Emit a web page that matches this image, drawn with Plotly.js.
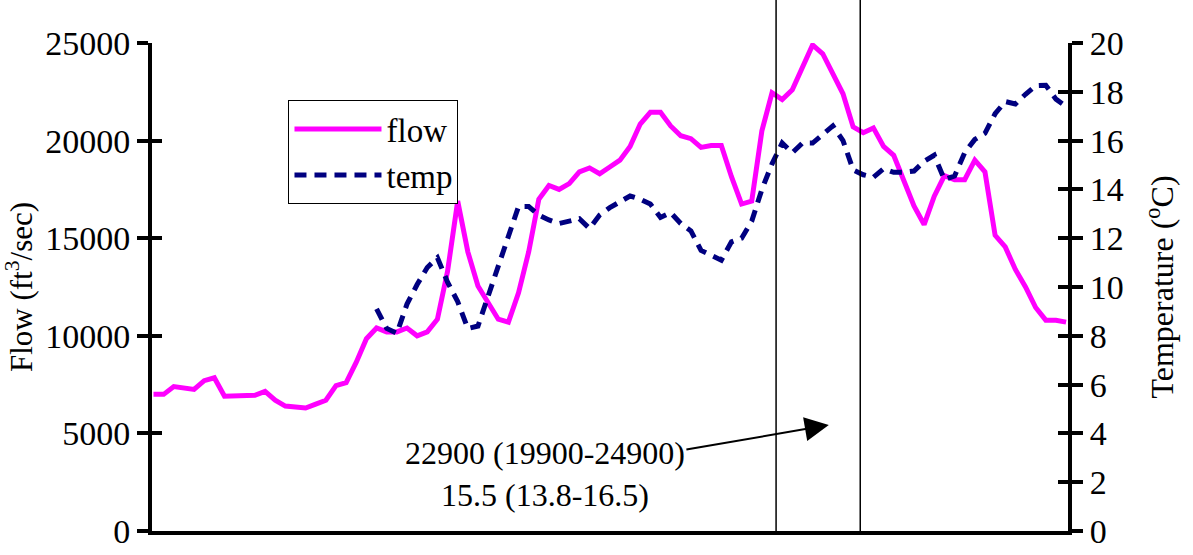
<!DOCTYPE html>
<html><head><meta charset="utf-8">
<script src="https://cdn.plot.ly/plotly-3.0.1.min.js"></script>
<style>html,body{margin:0;padding:0;background:#fff;} #chart{width:1193px;height:555px;}</style>
</head><body><div id="chart"></div>
<script>
// Day index along the (unlabelled) time axis
const days = [0,1,2,3,4,5,6,7,8,9,10,11,12,13,14,15,16,17,18,19,20,21,22,23,24,25,26,27,28,29,
  30,31,32,33,34,35,36,37,38,39,40,41,42,43,44,45,46,47,48,49,50,51,52,53,54,55,56,57,58,59,
  60,61,62,63,64,65,66,67,68,69,70,71,72,73,74,75,76,77,78,79,80,81,82,83,84,85,86,87,88,89,90];

// Flow (ft3/sec)
const flow = [7000,7000,7400,7350,7250,7700,7850,6900,6900,6900,
  6950,7150,6700,6400,6350,6300,6500,6700,7450,7600,
  8650,9850,10400,10200,10200,10400,10000,10200,10850,13300,
  16900,14300,12550,11700,10850,10700,12200,14300,17000,17700,
  17500,17800,18400,18600,18300,18650,19000,19700,20850,21450,
  21450,20750,20250,20100,19650,19750,19750,18150,16750,16900,
  20500,22450,22100,22600,23800,24900,24450,23450,22400,20700,
  20400,20650,19700,19250,17900,16650,15700,17150,18200,18000,
  18000,19000,18400,15150,14550,13400,12500,11450,10800,10800,10700];

// Temperature (deg C)
const temp = [null,null,null,null,null,null,null,null,null,null,
  null,null,null,null,null,null,null,null,null,null,null,null,
  9.1,8.3,8.1,9.3,10.1,10.8,11.2,10.2,9.4,8.3,
  8.4,9.6,10.8,12.0,13.3,13.3,12.95,12.75,12.6,12.7,
  12.8,12.4,12.95,13.25,13.5,13.73,13.6,13.4,12.85,13.05,
  12.6,12.3,11.5,11.3,11.1,11.85,12.0,12.7,14.0,15.05,
  15.9,15.5,15.9,15.9,16.25,16.6,16.0,14.8,14.6,14.5,
  14.85,14.7,14.7,14.75,15.15,15.4,14.4,14.55,15.5,16.05,
  16.3,17.1,17.6,17.5,17.9,18.25,18.27,17.7,17.4];

// Window marked by vertical lines (day index)
const windowBounds = [61.4, 69.7];
const annotationText = ['22900 (19900-24900)', '15.5 (13.8-16.5)'];
const seriesNames = ['flow', 'temp'];

const FONT = 'Liberation Serif';
const tickFont = {family: FONT, size: 34, color: '#000'};

const traces = [
  {x: days, y: flow, name: seriesNames[0], type: 'scatter', mode: 'lines',
   line: {color: '#FF00FF', width: 5}, yaxis: 'y', hoverinfo: 'skip'},
  {x: days, y: temp, name: seriesNames[1], type: 'scatter', mode: 'lines',
   line: {color: '#000080', width: 5, dash: '12px,8px'}, yaxis: 'y2', hoverinfo: 'skip', connectgaps: false},
  {x: [], y: [], yaxis: 'y3', showlegend: false, hoverinfo: 'skip'},
  {x: [], y: [], yaxis: 'y4', showlegend: false, hoverinfo: 'skip'}
];

const baseY = {
  showline: true, linecolor: '#000', linewidth: 4, showgrid: false, zeroline: false,
  ticks: 'outside', ticklen: 11, tickwidth: 4, tickcolor: '#000', tickfont: tickFont,
  tickformat: 'd', fixedrange: true
};

const layout = {
  width: 1193, height: 555,
  margin: {l: 152, r: 125, t: 43, b: 24},
  paper_bgcolor: '#fff', plot_bgcolor: '#fff',
  showlegend: true,
  font: {family: FONT, color: '#000'},
  xaxis: {range: [-0.148, 90.19], showline: true, linecolor: '#000', linewidth: 4,
    ticks: '', showticklabels: false, showgrid: false, zeroline: false, fixedrange: true},
  yaxis: Object.assign({}, baseY, {range: [0, 25000], tick0: 0, dtick: 5000,
    title: {text: 'Flow (ft<sup>3</sup>/sec)', font: {family: FONT, size: 31, color: '#000'}, standoff: 20}}),
  yaxis2: Object.assign({}, baseY, {range: [0, 20], tick0: 0, dtick: 2, overlaying: 'y', side: 'right', anchor: 'x',
    title: {text: 'Temperature (<sup>o</sup>C)', font: {family: FONT, size: 32, color: '#000'}, standoff: 29}}),
  yaxis3: {range: [0, 25000], tick0: 0, dtick: 5000, overlaying: 'y', side: 'left', anchor: 'x',
    ticks: 'inside', ticklen: 10, tickwidth: 4, tickcolor: '#000', showticklabels: false,
    showline: false, showgrid: false, zeroline: false, fixedrange: true},
  yaxis4: {range: [0, 20], tick0: 0, dtick: 2, overlaying: 'y', side: 'right', anchor: 'x',
    ticks: 'inside', ticklen: 10, tickwidth: 4, tickcolor: '#000', showticklabels: false,
    showline: false, showgrid: false, zeroline: false, fixedrange: true},
  legend: {x: 0.149, y: 0.883, xanchor: 'left', yanchor: 'top', bgcolor: '#fff',
    bordercolor: '#000', borderwidth: 1, font: {family: FONT, size: 33, color: '#000'},
    itemwidth: 87, tracegroupgap: 0},
  shapes: windowBounds.map(b => ({type: 'line', xref: 'x', yref: 'paper', x0: b, x1: b, y0: 0, y1: 1.09,
    line: {color: '#000', width: 1.5}, layer: 'above'})),
  annotations: [
    {xref: 'x', yref: 'y', x: 66.6, y: 5430, axref: 'x', ayref: 'y', ax: 38.6, ay: 2920,
     text: annotationText.join('<br>'), showarrow: true, arrowhead: 2, arrowsize: 2.4, arrowwidth: 2,
     arrowcolor: '#000', font: {family: FONT, size: 32, color: '#000'}, align: 'center'}
  ]
};

Plotly.newPlot('chart', traces, layout, {staticPlot: true, displayModeBar: false});
</script>
</body></html>
